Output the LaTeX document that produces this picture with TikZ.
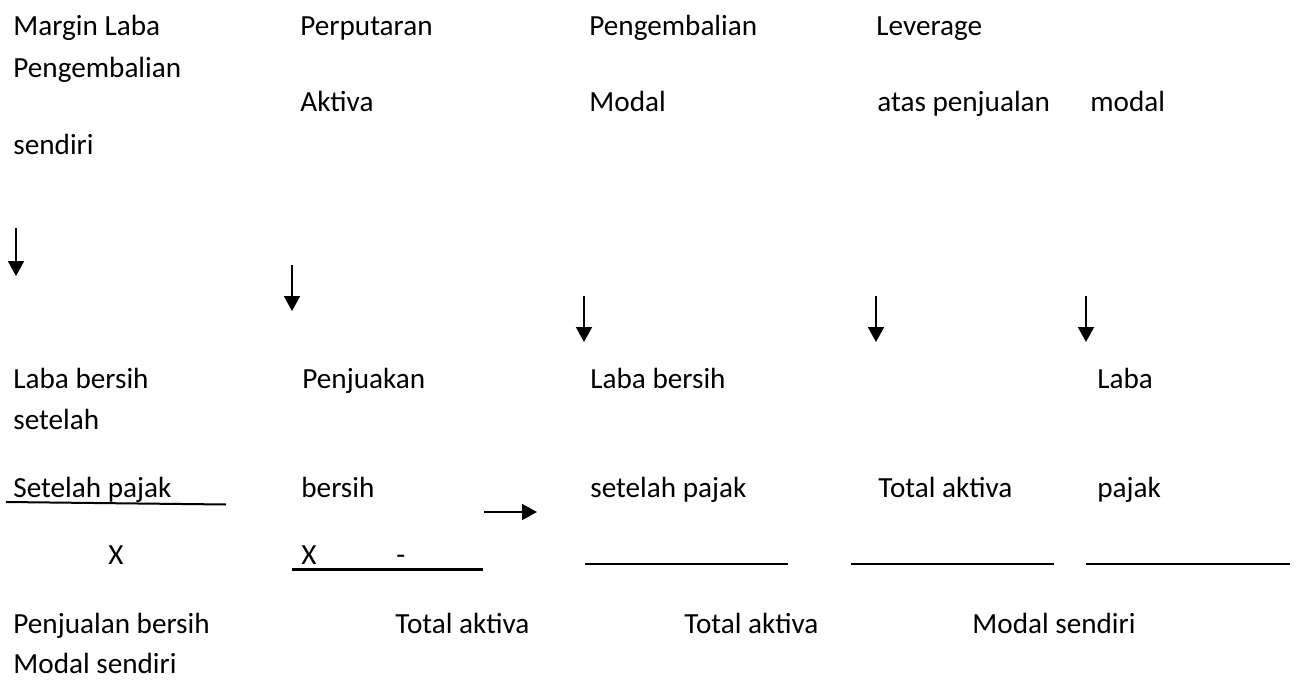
\documentclass[tikz,border=0pt]{standalone}
\usepackage{fontspec}
\setmainfont{Carlito}
\usetikzlibrary{arrows.meta,calc}
\tikzstyle{word}=[anchor=base west,inner sep=0pt,font=\fontsize{14.6}{17}\selectfont]
\tikzstyle{downarrow} = [draw,line width=1pt,-{Triangle[width=8pt,length=7.5pt]}]
\tikzstyle{rule} = [draw,line width=1pt]

\begin{document}
\begin{tikzpicture}[x=0.5pt,y=-0.5pt]
    \useasboundingbox (0,0) rectangle (1297,680);
    % Upper block of the page
    \foreach \pos/ \name/ \txt in {{(13,35)/ml/Margin Laba},{(300,35)/pp/Perputaran},{(589,35)/pg/Pengembalian},{(876,35)/lv/Leverage},
        {(13,77)/pgb/Pengembalian},
        {(300,112)/ak/Aktiva},{(589,112)/md/Modal},{(877,112)/ap/atas penjualan},{(1090,112)/mdl/modal},
        {(13,154)/sd/sendiri}}
        \node[word] (\name) at \pos {\txt};

    % Lower block with the fractions
    \foreach \pos/ \name/ \txt in {{(13,388)/lba/Laba bersih},{(302,388)/pj/Penjuakan},{(590,388)/lbb/Laba bersih},{(1097,388)/lbc/Laba},
        {(13,429)/st/setelah},
        {(13,497)/spa/Setelah pajak},{(301,497)/bs/bersih},{(590,497)/spb/setelah pajak},{(878,497)/taa/Total aktiva},{(1097,497)/pk/pajak},
        {(108,564)/xa/X},{(301,564)/xb/X},{(396,564)/mn/-},
        {(13,633)/pb/Penjualan bersih},{(395,633)/tab/Total aktiva},{(684,633)/tac/Total aktiva},{(972,633)/msa/Modal sendiri},
        {(13,673)/msb/Modal sendiri}}
        \node[word] (\name) at \pos {\txt};

    % Arrow ends
    \foreach \pos/ \name in {{(16,228)/sa},{(16,276)/ea},{(292,265)/sb},{(292,311)/eb},{(584,296)/sc},{(584,342)/ec},
        {(876,296)/sd},{(876,342)/ed},{(1086,296)/se},{(1086,342)/ee},{(484,512)/sr},{(537,512)/er}}
        \path \pos coordinate (\name);

    \foreach \source/ \dest in {sa/ea, sb/eb, sc/ec, sd/ed, se/ee, sr/er}
        \path[downarrow] (\source) -- (\dest);

    % Fraction bars
    \foreach \pos/ \name in {{(6,502)/la},{(226,504.5)/ra},{(292,569)/lb},{(483,569)/rb},{(585,564)/lc},{(788,564)/rc},
        {(851,564)/ld},{(1054,564)/rd},{(1086,564)/le},{(1290,564)/re}}
        \path \pos coordinate (\name);

    \foreach \source/ \dest in {la/ra, lc/rc, ld/rd, le/re}
        \path[rule] (\source) -- (\dest);
    \path[rule, line width=1.5pt] (lb) -- (rb);
\end{tikzpicture}
\end{document}
